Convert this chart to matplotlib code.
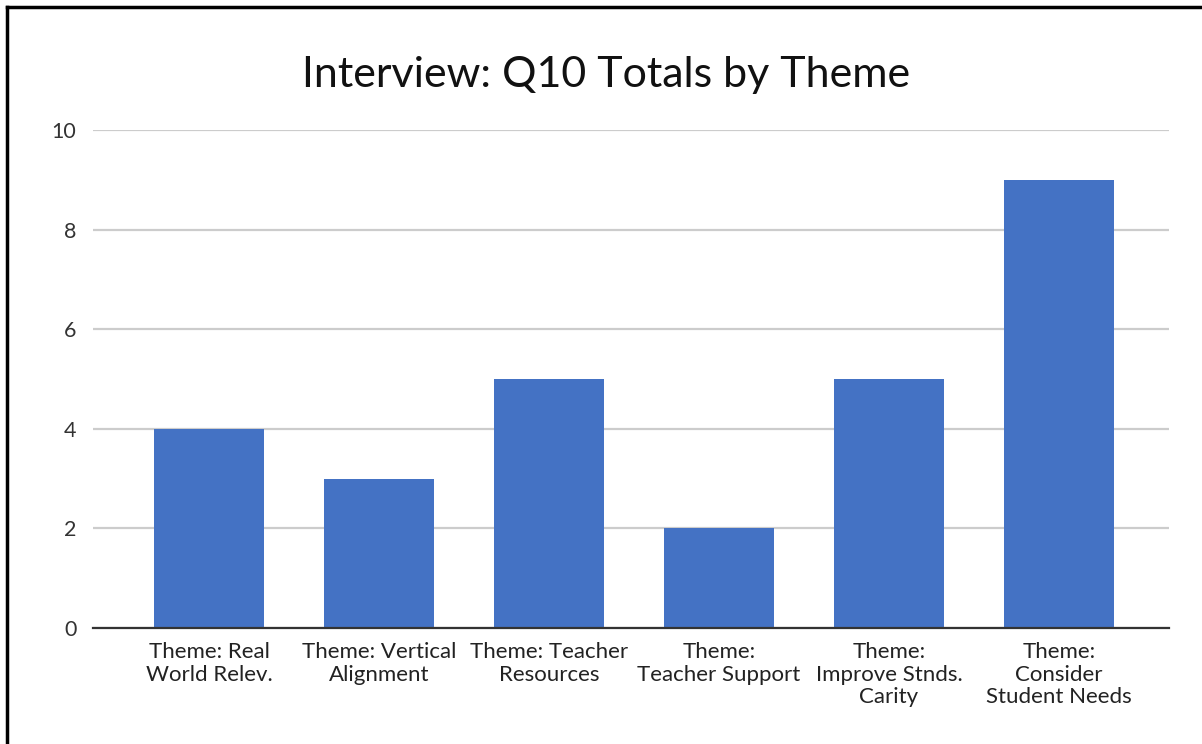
import matplotlib
matplotlib.use("Agg")
import matplotlib.pyplot as plt
from matplotlib.lines import Line2D

categories = [
    "Theme: Real\nWorld Relev.",
    "Theme: Vertical\nAlignment",
    "Theme: Teacher\nResources",
    "Theme:\nTeacher Support",
    "Theme:\nImprove Stnds.\nCarity",
    "Theme:\nConsider\nStudent Needs",
]
values = [4, 3, 5, 2, 5, 9]
yticks = [0, 2, 4, 6, 8, 10]
title = "Interview: Q10 Totals by Theme"

plt.rcParams['font.family'] = ['Lato', 'DejaVu Sans']

fig = plt.figure(figsize=(12.02, 7.44), dpi=100)
ax = fig.add_axes([93/1202, 1-628/744, (1169-93)/1202, (628-130)/744])

x = list(range(len(categories)))
ax.bar(x, values, width=0.647, color="#4472C4", zorder=3)

ax.set_ylim(0, 10)
ax.set_xlim(-0.682, 5.647)
ax.set_yticks(yticks)
ax.set_xticks(x)
ax.set_xticklabels(categories, fontsize=16, color="#222222", linespacing=1.17)
ax.tick_params(axis='both', length=0)
ax.tick_params(axis='y', labelsize=15.5, labelcolor="#333333", pad=12)
ax.tick_params(axis='x', pad=10)
ax.grid(axis='y', color="#cccccc", linewidth=1.6, zorder=0)
for s in ['top', 'right', 'left']:
    ax.spines[s].set_visible(False)
ax.spines['bottom'].set_color("#333333")
ax.spines['bottom'].set_linewidth(1.6)
ax.spines['bottom'].set_zorder(4)

fig.text(606/1202, 1-75/744, title, ha='center', va='center', fontsize=31, color="#111111")

# Frame lines (left and top)
fig.add_artist(Line2D([7/1202, 7/1202], [0, 1-7/744], color='black', linewidth=2.5, transform=fig.transFigure))
fig.add_artist(Line2D([7/1202, 1], [1-7/744, 1-7/744], color='black', linewidth=2.5, transform=fig.transFigure))

fig.savefig("out.png", dpi=100)
